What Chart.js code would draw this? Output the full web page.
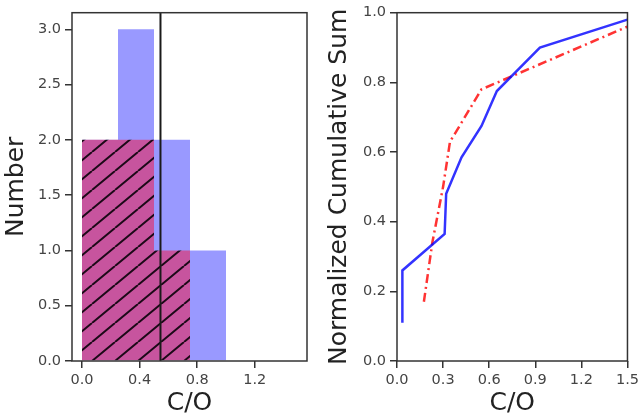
<!DOCTYPE html>
<html lang="en">
<head>
    <meta charset="UTF-8" />
    <title>C/O distribution</title>
    <script src="https://cdn.jsdelivr.net/npm/chart.js"></script>
    <style>
        body { margin: 0; background: #fff; width: 643px; height: 415px; position: relative; overflow: hidden; }
        canvas { position: absolute; top: 0; }
        #histChart { left: 0; }
        #cumChart { left: 320px; }
    </style>
</head>
<body>
    <canvas id="histChart" width="320" height="415"></canvas>
    <canvas id="cumChart" width="323" height="415"></canvas>

    <script>
        // histogram (bin width 0.25)
        const binCenters = [0.125, 0.375, 0.625, 0.875, 1.125, 1.375];
        const allCounts = [2, 3, 2, 1, 0, 0];
        const subCounts = [2, 2, 1, 0, 0, 0];
        const medianCO = 0.545;
        const histTicksX = [0, 0.4, 0.8, 1.2];
        const histTicksY = [0, 0.5, 1, 1.5, 2, 2.5, 3];

        // cumulative sums
        const allCumX = [0.035, 0.035, 0.31, 0.32, 0.42, 0.55, 0.65, 0.93, 1.5];
        const allCumY = [0.11, 0.26, 0.365, 0.48, 0.585, 0.675, 0.775, 0.9, 0.98];
        const subCumX = [0.175, 0.23, 0.3, 0.345, 0.38, 0.55, 1.5];
        const subCumY = [0.17, 0.34, 0.5, 0.63, 0.655, 0.78, 0.96];
        const cumTicksX = [0, 0.3, 0.6, 0.9, 1.2, 1.5];
        const cumTicksY = [0, 0.2, 0.4, 0.6, 0.8, 1.0];

        const font = "'DejaVu Sans', sans-serif";
        const axisColor = '#333';

        // hatch pattern: red with "/" lines
        function makeHatch() {
            const w = 23, h = 19;
            const c = document.createElement('canvas');
            c.width = w; c.height = h;
            const g = c.getContext('2d');
            g.fillStyle = 'rgba(255, 0, 40, 0.45)';
            g.fillRect(0, 0, w, h);
            g.strokeStyle = 'rgba(10, 0, 10, 0.9)';
            g.lineWidth = 2;
            g.beginPath();
            for (let k = -1; k <= 1; k++) {
                g.moveTo(k * w, h);
                g.lineTo(k * w + w, 0);
            }
            g.stroke();
            return g.createPattern(c, 'repeat');
        }

        // four spines around the plot area
        const spines = {
            id: 'spines',
            afterDatasetsDraw(chart) {
                const a = chart.chartArea;
                const ctx = chart.ctx;
                ctx.save();
                ctx.strokeStyle = axisColor;
                ctx.lineWidth = 1.5;
                ctx.strokeRect(a.left, a.top, a.right - a.left, a.bottom - a.top);
                ctx.restore();
            }
        };

        function axis(ticks, min, max, opts) {
            return Object.assign({
                type: 'linear',
                min: min,
                max: max,
                offset: false,
                border: { display: false },
                grid: { display: true, drawOnChartArea: false, drawTicks: true, tickLength: 7, color: axisColor, lineWidth: 1.5, offset: false },
                ticks: { color: '#444', font: { family: font, size: 14.5 }, padding: 4, callback: v => v.toFixed(1), maxRotation: 0 },
                afterBuildTicks: s => { s.ticks = ticks.map(v => ({ value: v })); }
            }, opts);
        }

        function title(text, pad) {
            return { display: true, text: text, color: '#222', font: { family: font, size: 25, lineHeight: 1 }, padding: { top: pad, bottom: -1 } };
        }

        new Chart(document.getElementById('histChart'), {
            type: 'bar',
            data: {
                datasets: [
                    {
                        type: 'line',
                        data: [{ x: medianCO, y: 0 }, { x: medianCO, y: 3.15 }],
                        borderColor: '#1a1a1a', borderWidth: 2, pointRadius: 0
                    },
                    {
                        data: binCenters.map((x, i) => ({ x: x, y: subCounts[i] })),
                        backgroundColor: makeHatch(), borderWidth: 0, inflateAmount: 0,
                        grouped: false, barPercentage: 1, categoryPercentage: 1
                    },
                    {
                        data: binCenters.map((x, i) => ({ x: x, y: allCounts[i] })),
                        backgroundColor: 'rgba(0, 0, 255, 0.4)', borderWidth: 0, inflateAmount: 0,
                        grouped: false, barPercentage: 1, categoryPercentage: 1
                    }
                ]
            },
            options: {
                responsive: false,
                animation: false,
                layout: { padding: { left: 0, right: 13, top: 11, bottom: 0 } },
                plugins: { legend: { display: false }, tooltip: { enabled: false } },
                scales: {
                    x: axis(histTicksX, -10 / 144, 225 / 144, { title: title('C/O', 0), afterFit: s => { s.height = 54; } }),
                    y: axis(histTicksY, 0, 3.15, { title: title('Number', 4), afterFit: s => { s.width = 72; } })
                }
            },
            plugins: [spines]
        });

        new Chart(document.getElementById('cumChart'), {
            type: 'scatter',
            data: {
                datasets: [
                    {
                        data: allCumX.map((x, i) => ({ x: x, y: allCumY[i] })),
                        showLine: true, borderColor: 'rgba(0, 0, 255, 0.8)', borderWidth: 2.5, pointRadius: 0
                    },
                    {
                        data: subCumX.map((x, i) => ({ x: x, y: subCumY[i] })),
                        showLine: true, borderColor: 'rgba(255, 0, 0, 0.8)', borderWidth: 2.5, pointRadius: 0,
                        borderDash: [9, 4, 2, 4]
                    }
                ]
            },
            options: {
                responsive: false,
                animation: false,
                layout: { padding: { left: 0, right: 11, top: 11, bottom: 0 } },
                plugins: { legend: { display: false }, tooltip: { enabled: false } },
                scales: {
                    x: axis(cumTicksX, 0, 1.5, { title: title('C/O', 0), afterFit: s => { s.height = 54; } }),
                    y: axis(cumTicksY, 0, 1.0, { title: title('Normalized Cumulative Sum', 7), afterFit: s => { s.width = 77; } })
                }
            },
            plugins: [spines]
        });
    </script>
</body>
</html>
